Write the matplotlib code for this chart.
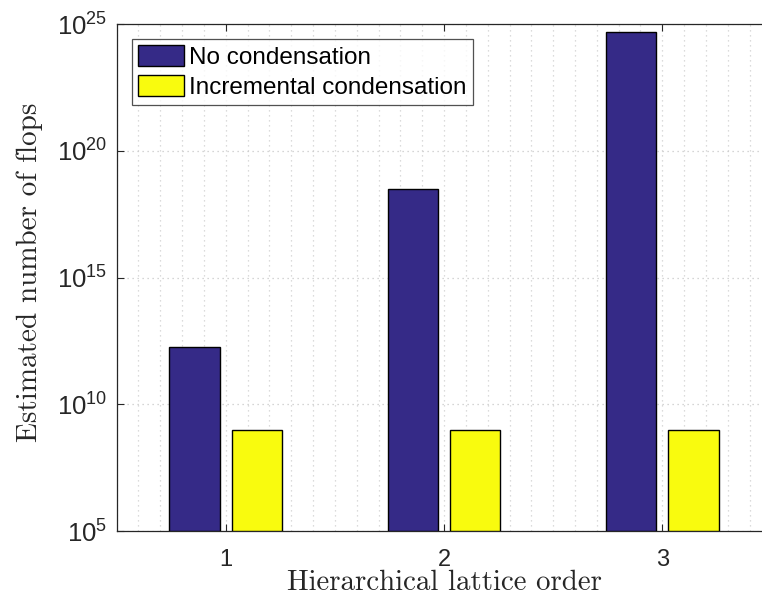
import numpy as np
import matplotlib
matplotlib.use("Agg")
import matplotlib.pyplot as plt
from matplotlib.ticker import FixedLocator, MultipleLocator

# flop estimates per lattice order
orders = [1, 2, 3]
no_condensation = [1.8e12, 3.2e18, 5.0e24]
incremental = [1.0e9, 1.0e9, 1.0e9]
series_labels = ["No condensation", "Incremental condensation"]

plt.rcParams["mathtext.fontset"] = "custom"
plt.rcParams["mathtext.rm"] = "Liberation Sans"
plt.rcParams["mathtext.it"] = "Liberation Sans:italic"
plt.rcParams["font.family"] = "Liberation Sans"

fig = plt.figure(figsize=(7.62, 6.05), dpi=100)
ax = fig.add_axes([0.1531, 0.1223, 0.8593, 0.838])

x = np.array(orders, dtype=float)
w = 0.23
off = 0.143
ax.bar(x - off, no_condensation, w, bottom=1e5, color="#352A87",
       edgecolor="black", linewidth=1.0, label=series_labels[0], zorder=3)
ax.bar(x + off, incremental, w, bottom=1e5, color="#F9FB0E",
       edgecolor="black", linewidth=1.0, label=series_labels[1], zorder=3)

ax.set_yscale("log")
ax.set_ylim(1e5, 1e25)
ax.set_xlim(0.5, 3.5)
ax.yaxis.set_major_locator(FixedLocator([1e5, 1e10, 1e15, 1e20, 1e25]))
ax.yaxis.set_minor_locator(FixedLocator([]))
ax.set_xticks(orders)
ax.xaxis.set_minor_locator(MultipleLocator(0.1))

ax.grid(True, which="major", axis="y", linestyle=(0, (1, 3)), color="#c8c8c8", linewidth=0.9, zorder=0)
ax.grid(True, which="both", axis="x", linestyle=(0, (1, 3)), color="#d0d0d0", linewidth=0.9, zorder=0)

ax.tick_params(which="major", direction="in", length=5, width=0.8, top=True, right=True,
               colors="#262626")
ax.tick_params(axis="x", which="major", labelsize=17, pad=13)
ax.tick_params(axis="y", which="major", labelsize=18.5, pad=7)
ax.tick_params(which="minor", length=0, top=True)
for s in ax.spines.values():
    s.set_color("#262626")
    s.set_linewidth(0.9)

ax.set_xlabel("Hierarchical lattice order", fontfamily="cmr10", fontsize=20.8, color="#262626")
ax.set_ylabel("Estimated number of flops", fontfamily="cmr10", fontsize=21, color="#262626")
ax.xaxis.set_label_coords(0.5, -0.077)
ax.yaxis.set_label_coords(-0.113, 0.511)

leg = ax.legend(loc="upper left", bbox_to_anchor=(0.0234, 0.9704), fontsize=17.5, frameon=True,
                fancybox=False, edgecolor="#262626", handlelength=1.89, handleheight=0.95,
                handletextpad=0.2, borderpad=0.26, labelspacing=0.24, borderaxespad=0)
leg.get_frame().set_linewidth(0.9)

fig.savefig("out.png", dpi=100)
